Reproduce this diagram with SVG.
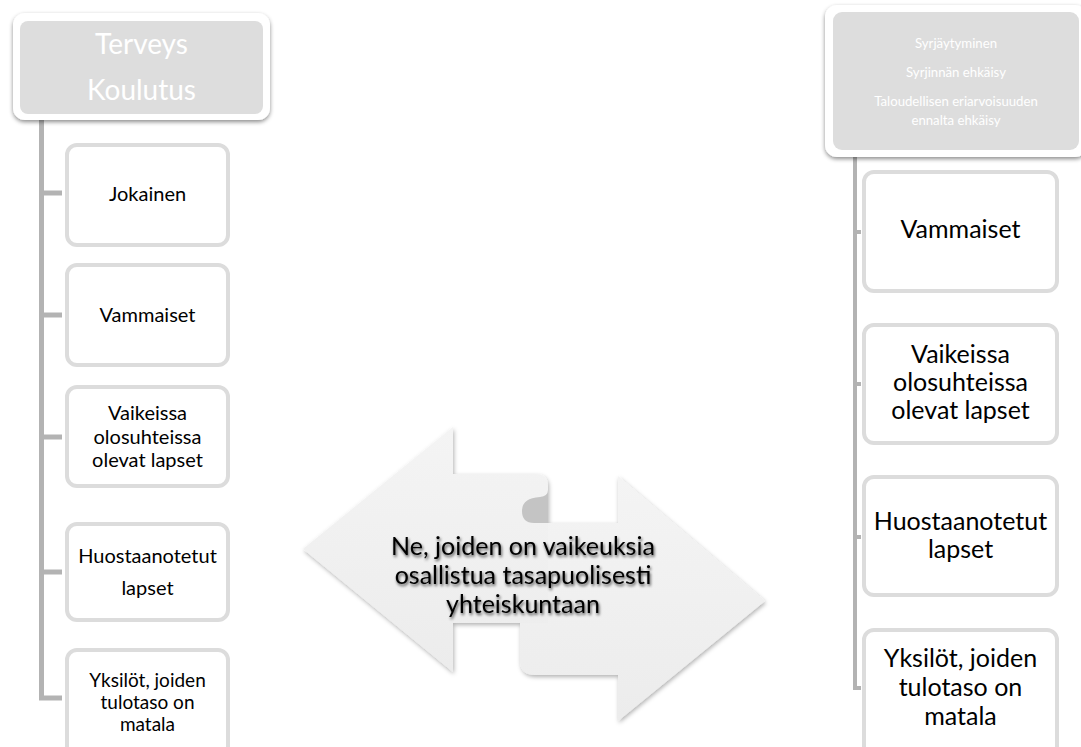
<svg xmlns="http://www.w3.org/2000/svg" width="1081" height="747" viewBox="0 0 1081 747">
<defs>
<filter id="sh" x="-10%" y="-10%" width="120%" height="130%">
<feDropShadow dx="0" dy="2" stdDeviation="2" flood-color="#000" flood-opacity="0.45"/>
</filter>
<filter id="ash" x="-10%" y="-10%" width="120%" height="130%">
<feDropShadow dx="1" dy="2" stdDeviation="2" flood-color="#000" flood-opacity="0.3"/>
</filter>
<filter id="tsh" x="-10%" y="-20%" width="120%" height="140%">
<feGaussianBlur in="SourceAlpha" stdDeviation="1.6" result="b"/>
<feOffset in="b" dx="1" dy="1.5" result="o"/>
<feComponentTransfer in="o" result="s"><feFuncA type="linear" slope="0.7"/></feComponentTransfer>
<feMerge><feMergeNode in="s"/><feMergeNode in="SourceGraphic"/></feMerge>
</filter>
<linearGradient id="ag" x1="0" y1="0" x2="0" y2="1">
<stop offset="0" stop-color="#f4f4f4"/>
<stop offset="1" stop-color="#ececec"/>
</linearGradient>
</defs>
<style>
.t{font-family:Lato,"Noto Sans",sans-serif;text-anchor:middle;fill:#000}
.hd{font-family:Lato,"Noto Sans",sans-serif;text-anchor:middle;fill:#fff}
.box{fill:#fff;stroke:#dcdcdc;stroke-width:4}
.outer{fill:#fff;filter:url(#sh)}
.inner{fill:#dddddd}
.line{stroke:#b3b3b3;stroke-width:5;fill:none}
.lineR{stroke:#b3b3b3;stroke-width:4;fill:none}
</style>
<rect width="1081" height="747" fill="#fff"/>

<g id="connectors">
<path class="line" d="M41.5,118 V698 H62 M41.5,193 H62 M41.5,315 H62 M41.5,437 H62 M41.5,572 H62"/>
<path class="lineR" d="M855,155 V688 H861 M855,232 H861 M855,384 H861 M855,537 H861"/>
</g>

<g id="header-left">
<rect class="outer" x="13" y="13" width="257" height="107" rx="12"/>
<rect class="inner" x="20" y="21" width="243" height="93" rx="8"/>
<text class="hd" x="141.5" y="54" font-size="28">Terveys</text>
<text class="hd" x="141.5" y="100" font-size="28">Koulutus</text>
</g>

<g id="header-right">
<rect class="outer" x="825" y="5" width="262" height="152" rx="12"/>
<rect class="inner" x="833" y="12" width="246" height="138" rx="9"/>
<text class="hd" x="956" y="48" font-size="13.2">Syrjäytyminen</text>
<text class="hd" x="956" y="77" font-size="13.2">Syrjinnän ehkäisy</text>
<text class="hd" x="956" y="106" font-size="13.2">Taloudellisen eriarvoisuuden</text>
<text class="hd" x="956" y="125" font-size="13.2">ennalta ehkäisy</text>
</g>

<g id="left-jokainen">
<rect class="box" x="67" y="145" width="161" height="100" rx="10"/>
<text class="t" x="147.5" y="201" font-size="20">Jokainen</text>
</g>
<g id="left-vammaiset">
<rect class="box" x="67" y="265" width="161" height="100" rx="10"/>
<text class="t" x="147.5" y="322" font-size="20">Vammaiset</text>
</g>
<g id="left-vaikeissa">
<rect class="box" x="67" y="387" width="161" height="99" rx="10"/>
<text class="t" x="147.5" y="420" font-size="20">Vaikeissa</text>
<text class="t" x="147.5" y="443.5" font-size="20">olosuhteissa</text>
<text class="t" x="147.5" y="467" font-size="20">olevat lapset</text>
</g>
<g id="left-huostaanotetut">
<rect class="box" x="67" y="524" width="161" height="96" rx="10"/>
<text class="t" x="147.5" y="563" font-size="20">Huostaanotetut</text>
<text class="t" x="147.5" y="595" font-size="20">lapset</text>
</g>
<g id="left-yksilot">
<rect class="box" x="67" y="650" width="161" height="110" rx="10"/>
<text class="t" x="147.5" y="687" font-size="19">Yksilöt, joiden</text>
<text class="t" x="147.5" y="709" font-size="19">tulotaso on</text>
<text class="t" x="147.5" y="731" font-size="19">matala</text>
</g>

<g id="right-vammaiset">
<rect class="box" x="864" y="172" width="193" height="119" rx="10"/>
<text class="t" x="960.5" y="238" font-size="25">Vammaiset</text>
</g>
<g id="right-vaikeissa">
<rect class="box" x="864" y="325" width="193" height="118" rx="10"/>
<text class="t" x="960.5" y="363" font-size="25">Vaikeissa</text>
<text class="t" x="960.5" y="391" font-size="25">olosuhteissa</text>
<text class="t" x="960.5" y="419" font-size="25">olevat lapset</text>
</g>
<g id="right-huostaanotetut">
<rect class="box" x="864" y="477" width="193" height="118" rx="10"/>
<text class="t" x="960.5" y="530" font-size="25">Huostaanotetut</text>
<text class="t" x="960.5" y="558" font-size="25">lapset</text>
</g>
<g id="right-yksilot">
<rect class="box" x="864" y="630" width="193" height="130" rx="10"/>
<text class="t" x="960.5" y="667" font-size="25">Yksilöt, joiden</text>
<text class="t" x="960.5" y="696" font-size="25">tulotaso on</text>
<text class="t" x="960.5" y="725" font-size="25">matala</text>
</g>

<g id="center-arrows">
<g filter="url(#ash)">
<path fill="url(#ag)" d="M520,538 Q520,523 535,523 L618,523 L618,476 L765,601 L618,721 L618,675 L535,675 Q520,675 520,660 Z"/>
<path fill="url(#ag)" d="M303,549 L453,427 L453,474 L536,474 Q548,474 548,486 L548,623 L453,623 L453,672 Z"/>
</g>
<path fill="#c4c4c4" d="M548,523 L534,523 Q522,523 522,511 Q522,498 540,497 Q548,496 548,490 Z"/>
<g filter="url(#tsh)">
<text class="t" x="523" y="555" font-size="25">Ne, joiden on vaikeuksia</text>
<text class="t" x="523" y="584" font-size="25">osallistua tasapuolisesti</text>
<text class="t" x="523" y="613" font-size="25">yhteiskuntaan</text>
</g>
</g>
</svg>
